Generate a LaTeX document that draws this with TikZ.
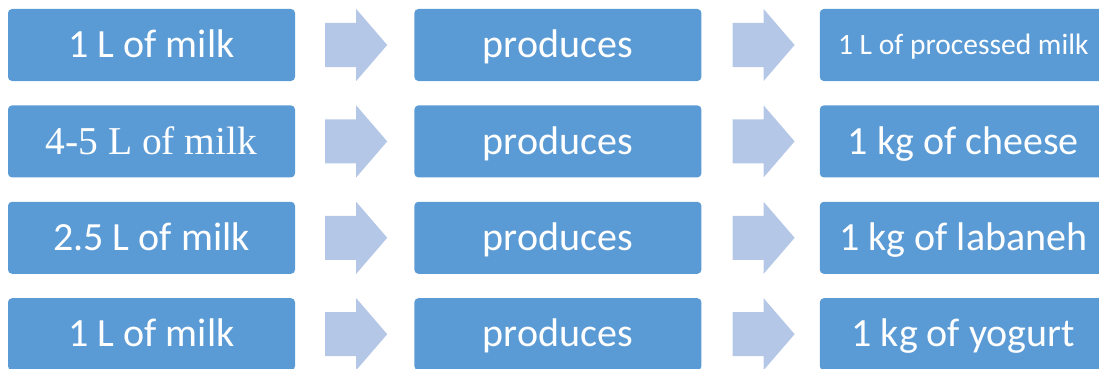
\documentclass[tikz,border=0pt]{standalone}
\usepackage{fontspec}
\setmainfont{Carlito}
\newfontfamily\timesfont{Liberation Serif}
\usetikzlibrary{positioning}

\definecolor{boxblue}{HTML}{5B9BD5}
\definecolor{arrowblue}{HTML}{B4C7E7}

\tikzset{
    stepbox/.style={
        fill=boxblue,
        text=white,
        rounded corners=4pt,
        minimum width=287pt,
        minimum height=72pt,
        inner sep=0pt,
        text height=25.5pt,
        text depth=0pt,
        font=\fontsize{40}{48}\selectfont
    },
    pics/flowarrow/.style={code={
        \fill[arrowblue] (0,-22pt) -- (31pt,-22pt) -- (31pt,-36pt) -- (62pt,0)
            -- (31pt,36pt) -- (31pt,22pt) -- (0,22pt) -- cycle;
    }}
}

\begin{document}
\begin{tikzpicture}
\clip (0,0) rectangle (1099pt,-369pt);

% milk in
\node[stepbox] (in1) at (151.5pt,-45pt) {1 L of milk};
\node[stepbox, below=24pt of in1, font=\fontsize{39.5}{46}\timesfont, text height=26pt] (in2) {4-5 L of milk};
\node[stepbox, below=24pt of in2] (in3) {2.5 L of milk};
\node[stepbox, below=24pt of in3] (in4) {1 L of milk};

% middle column
\node[stepbox, right=119pt of in1] (pr1) {produces};
\node[stepbox, right=119pt of in2] (pr2) {produces};
\node[stepbox, right=119pt of in3] (pr3) {produces};
\node[stepbox, right=119pt of in4] (pr4) {produces};

% products
\node[stepbox, right=118pt of pr1, font=\fontsize{29.5}{35}\selectfont, text height=19pt] (out1) {1 L of processed milk};
\node[stepbox, right=118pt of pr2] (out2) {1 kg of cheese};
\node[stepbox, right=118pt of pr3] (out3) {1 kg of labaneh};
\node[stepbox, right=118pt of pr4] (out4) {1 kg of yogurt};

% arrows between the columns
\pic[xshift=30pt] at (in1.east) {flowarrow};
\pic[xshift=30pt] at (in2.east) {flowarrow};
\pic[xshift=30pt] at (in3.east) {flowarrow};
\pic[xshift=30pt] at (in4.east) {flowarrow};
\pic[xshift=31pt] at (pr1.east) {flowarrow};
\pic[xshift=31pt] at (pr2.east) {flowarrow};
\pic[xshift=31pt] at (pr3.east) {flowarrow};
\pic[xshift=31pt] at (pr4.east) {flowarrow};
\end{tikzpicture}
\end{document}
